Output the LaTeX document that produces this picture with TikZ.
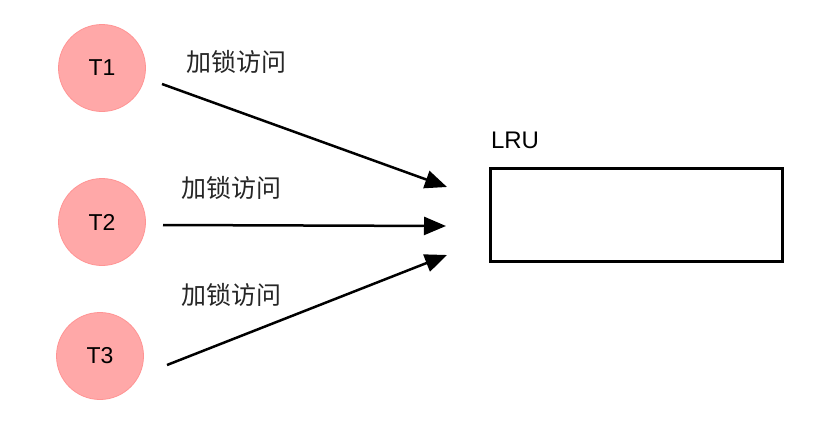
\documentclass[tikz,border=0pt]{standalone}
\usepackage{fontspec}
\setmainfont{Liberation Sans}
\newfontfamily\cjk{Noto Sans CJK SC}
\usetikzlibrary{arrows.meta}
\definecolor{pinkfill}{HTML}{FFA8A8}
\definecolor{pinkline}{HTML}{FF9494}
\tikzset{
  thread/.style={circle, fill=pinkfill, draw=pinkline, line width=0.8pt, minimum size=87pt, inner sep=0pt, font=\fontsize{23}{23}\selectfont},
  lbl/.style={font=\cjk\fontsize{25}{25}\selectfont, text=black!85, inner sep=0pt},
  conn/.style={line width=2.5pt, -{Triangle[length=22pt,width=18pt]}},
}
\begin{document}
\begin{tikzpicture}[x=1pt,y=-1pt]
\useasboundingbox (0,0) rectangle (832,431);
\node[thread] (t1) at (102,68) {T1};
\node[thread] (t2) at (102,222) {T2};
\node[thread] (t3) at (100,356) {T3};
\node[lbl] (l1) at (236,62) {加锁访问};
\node[lbl] (l2) at (231,188) {加锁访问};
\node[lbl] (l3) at (231,295) {加锁访问};
\node[font=\fontsize{24}{24}\selectfont, inner sep=0pt] (lru) at (515,140) {LRU};
\node[draw, line width=2.5pt, minimum width=292pt, minimum height=93pt, inner sep=0pt] (box) at (636.5,215) {};
\coordinate (a1s) at (162,84);
\coordinate (a1e) at (447,187);
\coordinate (a2s) at (163,225);
\coordinate (a2e) at (446,226);
\coordinate (a3s) at (167,365);
\coordinate (a3e) at (447,255);
\draw[conn] (a1s) -- (a1e);
\draw[conn] (a2s) -- (a2e);
\draw[conn] (a3s) -- (a3e);
\end{tikzpicture}
\end{document}
